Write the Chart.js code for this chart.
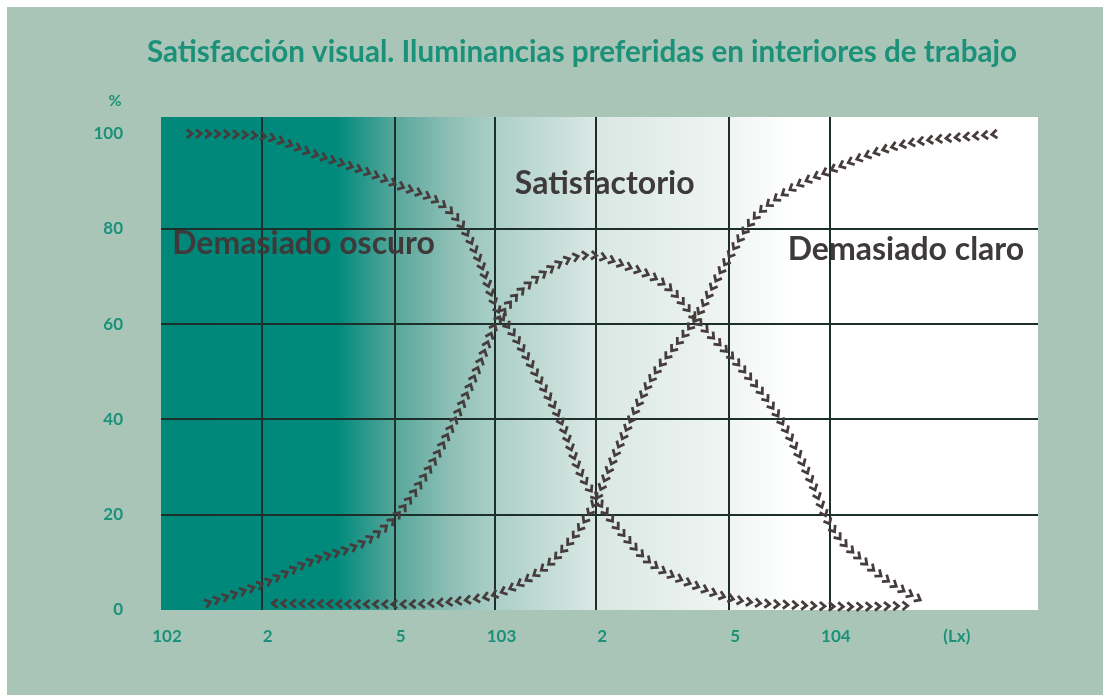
<!DOCTYPE html>
<html>
<head>
<meta charset="utf-8">
<script src="https://cdn.jsdelivr.net/npm/chart.js@4/dist/chart.umd.min.js"></script>
<style>
  body { margin: 0; background: #fff; }
  #wrap { position: absolute; left: 7px; top: 7px; width: 1096px; height: 688px; background: #a9c5b7; }
</style>
</head>
<body>
<div id="wrap"><canvas id="chart" width="1096" height="688"></canvas></div>
<script>
const chartTitle = "Satisfacción visual. Iluminancias preferidas en interiores de trabajo";

// x ticks (lux, log scale) and the labels as printed
const xTicks = [100, 200, 500, 1000, 2000, 5000, 10000, 23000];
const xTickLabels = ["102", "2", "5", "103", "2", "5", "104", "(Lx)"];
const yTicks = [0, 20, 40, 60, 80, 100];

// Demasiado oscuro
const darkLux = [118, 200, 280, 500, 770, 900, 1000, 1160, 1360, 1560, 1790, 2000, 2360, 2900, 4000, 5200, 8100, 12000, 17300];
const darkPct = [100, 99.5, 96, 89.5, 82, 73, 64, 56.7, 48, 40, 29, 23.5, 16.6, 10, 5, 2.2, 1, 0.7, 0.9];

// Satisfactorio
const okLux = [134, 200, 280, 410, 510, 600, 680, 780, 900, 1000, 1450, 1920, 2400, 3250, 4100, 5500, 7100, 8800, 10000, 12900, 16200, 19000];
const okPct = [1.2, 5.4, 10.2, 14.5, 20, 27, 33.5, 42, 52, 60, 71.5, 74.5, 72.5, 68, 60, 50.4, 40, 27, 18, 9.6, 4.5, 1.8];

// Demasiado claro
const brightLux = [212, 300, 500, 800, 1000, 1250, 1550, 1930, 2360, 2900, 4000, 4800, 5900, 7500, 9800, 16000, 32000];
const brightPct = [1.4, 1.3, 1.2, 2, 3.3, 6.5, 11.7, 21, 35, 48, 61.6, 72, 82, 88, 92, 97.5, 100];

// zone labels, anchored in data units (left edge, vertical middle)
const zoneText = ["Demasiado oscuro", "Satisfactorio", "Demasiado claro"];
const zoneLux = [108, 1143, 7480];
const zonePct = [77, 89.6, 75.6];

const teal = "#1c9179";
const gridDark = "#1d2f2b";
const clear = "rgba(0,0,0,0)";

function pairs(xs, ys) {
    return xs.map((x, i) => ({ x: x, y: ys[i] }));
}

// horizontal teal -> white background of the plot
const backdrop = {
    id: "backdrop",
    beforeDraw(chart) {
        const a = chart.chartArea;
        const ctx = chart.ctx;
        const g = ctx.createLinearGradient(a.left, 0, a.right, 0);
        g.addColorStop(0, "#00877a");
        g.addColorStop(0.2, "#008a7c");
        g.addColorStop(0.27, "#5aa89c");
        g.addColorStop(0.33, "#8dbfb6");
        g.addColorStop(0.38, "#aacfc7");
        g.addColorStop(0.49, "#d8e7e3");
        g.addColorStop(0.65, "#f0f5f4");
        g.addColorStop(0.72, "#ffffff");
        g.addColorStop(1, "#ffffff");
        ctx.save();
        ctx.fillStyle = g;
        ctx.fillRect(a.left, a.top, a.right - a.left, a.bottom - a.top);
        ctx.restore();
    }
};

// draws each curve as a row of chevrons following the interpolated line
const chevrons = {
    id: "chevrons",
    afterDatasetsDraw(chart) {
        const ctx = chart.ctx;
        const spacing = 9.2;
        chart.data.datasets.forEach((ds, i) => {
            const meta = chart.getDatasetMeta(i);
            if (meta.dataset && meta.dataset.updateControlPoints) {
                meta.dataset.updateControlPoints(chart.chartArea, "x");
            }
            const pts = meta.data;
            const path = [];
            for (let k = 0; k < pts.length - 1; k++) {
                const a = pts[k], b = pts[k + 1];
                const c1x = a.cp2x ?? a.x, c1y = a.cp2y ?? a.y;
                const c2x = b.cp1x ?? b.x, c2y = b.cp1y ?? b.y;
                for (let s = (k === 0 ? 0 : 1); s <= 40; s++) {
                    const t = s / 40, u = 1 - t;
                    path.push({
                        x: u * u * u * a.x + 3 * u * u * t * c1x + 3 * u * t * t * c2x + t * t * t * b.x,
                        y: u * u * u * a.y + 3 * u * u * t * c1y + 3 * u * t * t * c2y + t * t * t * b.y
                    });
                }
            }
            const cum = [0];
            for (let k = 1; k < path.length; k++) {
                cum.push(cum[k - 1] + Math.hypot(path[k].x - path[k - 1].x, path[k].y - path[k - 1].y));
            }
            const total = cum[cum.length - 1];
            ctx.save();
            ctx.strokeStyle = "#463c3c";
            ctx.lineWidth = 2.8;
            ctx.lineJoin = "miter";
            let seg = 1;
            for (let d = spacing / 2; d < total; d += spacing) {
                while (seg < path.length - 1 && cum[seg] < d) seg++;
                const p = path[seg - 1], q = path[seg];
                const f = (d - cum[seg - 1]) / ((cum[seg] - cum[seg - 1]) || 1);
                const x = p.x + (q.x - p.x) * f;
                const y = p.y + (q.y - p.y) * f;
                let ang = Math.atan2(q.y - p.y, q.x - p.x);
                if (ds.chevronBack) ang += Math.PI;
                ctx.save();
                ctx.translate(x, y);
                ctx.rotate(ang);
                ctx.beginPath();
                ctx.moveTo(-2.8, -4.2);
                ctx.lineTo(2.4, 0);
                ctx.lineTo(-2.8, 4.2);
                ctx.stroke();
                ctx.restore();
            }
            ctx.restore();
        });
    },
    afterDraw(chart) {
        const ctx = chart.ctx;
        const xs = chart.scales.x, ys = chart.scales.y;
        const a = chart.chartArea;
        ctx.save();
        ctx.textBaseline = "middle";
        // title
        ctx.fillStyle = teal;
        ctx.font = "bold 29.6px Lato";
        ctx.textAlign = "center";
        ctx.fillText(chartTitle, a.left + (a.right - a.left) * 0.48, a.top - 65);
        // zone names
        ctx.fillStyle = "#3f3a3a";
        ctx.font = "bold 32px Lato";
        ctx.textAlign = "left";
        zoneText.forEach((t, i) => {
            ctx.fillText(t, xs.getPixelForValue(zoneLux[i]), ys.getPixelForValue(zonePct[i]));
        });
        // unit of the y axis
        ctx.fillStyle = teal;
        ctx.font = "bold 16px Lato";
        ctx.textAlign = "center";
        ctx.fillText("%", a.left - 46, a.top - 16);
        ctx.restore();
    }
};

function makeChart() {
    Chart.defaults.font.family = "Lato";
    new Chart(document.getElementById("chart"), {
        type: "line",
        data: {
            datasets: [
                { label: "Demasiado oscuro", data: pairs(darkLux, darkPct) },
                { label: "Satisfactorio", data: pairs(okLux, okPct) },
                { label: "Demasiado claro", data: pairs(brightLux, brightPct), chevronBack: true }
            ]
        },
        options: {
            responsive: false,
            animation: false,
            devicePixelRatio: 1,
            layout: { padding: { left: 0, right: 65, top: 110, bottom: 0 } },
            elements: {
                line: { borderWidth: 0, borderColor: clear, cubicInterpolationMode: "monotone", tension: 0.4 },
                point: { radius: 0, hoverRadius: 0 }
            },
            plugins: {
                legend: { display: false },
                tooltip: { enabled: false },
                title: { display: false }
            },
            scales: {
                x: {
                    type: "logarithmic",
                    min: 100,
                    max: 41900,
                    afterBuildTicks: s => { s.ticks = xTicks.map(v => ({ value: v })); },
                    afterFit: s => { s.height = 85; },
                    border: { display: false },
                    grid: {
                        color: c => (c.index > 0 && c.index < 7) ? gridDark : clear,
                        lineWidth: 2,
                        drawTicks: false
                    },
                    ticks: {
                        autoSkip: false,
                        maxRotation: 0,
                        padding: 16,
                        labelOffset: 6,
                        color: teal,
                        font: { size: 17, weight: "bold" },
                        callback: (v, i) => xTickLabels[i]
                    }
                },
                y: {
                    min: 0,
                    max: 103.5,
                    afterBuildTicks: s => { s.ticks = yTicks.map(v => ({ value: v })); },
                    afterFit: s => { s.width = 154; },
                    border: { display: false },
                    grid: {
                        color: c => (c.tick && c.tick.value > 0 && c.tick.value < 100) ? gridDark : clear,
                        lineWidth: 2,
                        drawTicks: false
                    },
                    ticks: {
                        padding: 38,
                        color: teal,
                        font: { size: 17, weight: "bold" },
                        callback: v => String(v)
                    }
                }
            }
        },
        plugins: [backdrop, chevrons]
    });
}

if (document.fonts && document.fonts.load) {
    Promise.all([document.fonts.load("bold 24px Lato")]).then(makeChart, makeChart);
} else {
    makeChart();
}
</script>
</body>
</html>
